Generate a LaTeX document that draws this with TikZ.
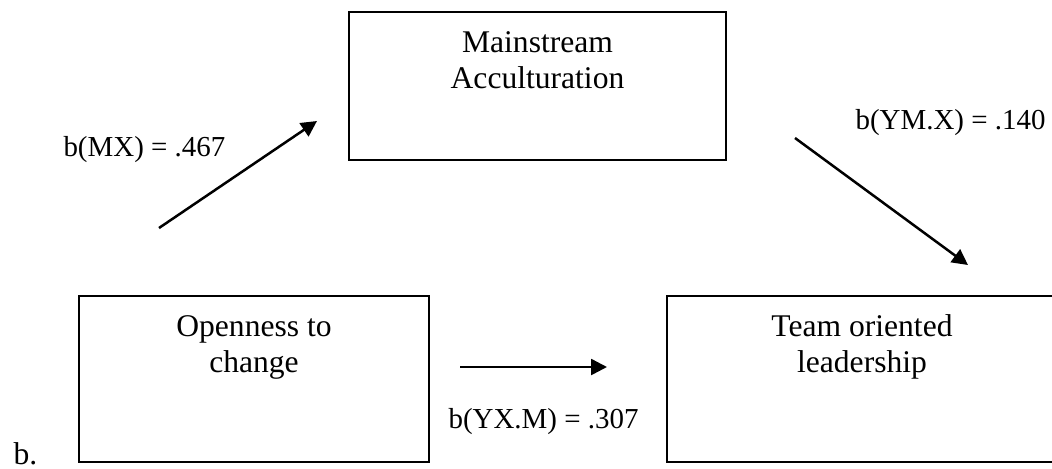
\documentclass[tikz,border=0pt]{standalone}
\usepackage{fontspec}
\setmainfont{Liberation Serif}
\usetikzlibrary{arrows.meta}
\begin{document}
\begin{tikzpicture}[x=0.38pt,y=-0.38pt,
  boxnode/.style={draw=black, line width=0.8pt, rectangle, inner sep=0pt},
  boxtext/.style={anchor=north, inner sep=0pt, align=center, font=\fontsize{12}{13.8}\selectfont},
  coeflabel/.style={anchor=base west, inner sep=0pt, font=\fontsize{11}{13}\selectfont},
  patharrow/.style={line width=0.95pt, -{Triangle[length=6pt,width=6pt]}}
]
\useasboundingbox (0,0) rectangle (1052,468);
% boxes
\node[boxnode, minimum width=377*0.38pt, minimum height=148*0.38pt] (M) at (537.5,86) {};
\node[boxnode, minimum width=350*0.38pt, minimum height=166*0.38pt] (X) at (254,379) {};
\node[boxnode, minimum width=390*0.38pt, minimum height=166*0.38pt] (Y) at (862,379) {};
% box texts
\node[boxtext] (Mt) at (537.5,26.6) {\strut Mainstream\\Acculturation};
\node[boxtext] (Xt) at (254,310.6) {\strut Openness to\\change};
\node[boxtext] (Yt) at (862,310.6) {\strut Team oriented\\leadership};
% arrow end points
\coordinate (a1) at (159,228);
\coordinate (a2) at (317,121);
\coordinate (b1) at (795,138);
\coordinate (b2) at (968,265);
\coordinate (c1) at (460,367);
\coordinate (c2) at (607,367);
\draw[patharrow] (a1) -- (a2);
\draw[patharrow] (b1) -- (b2);
\draw[patharrow] (c1) -- (c2);
% labels
\node[coeflabel] (lmx) at (63,156) {b(MX) = .467};
\node[coeflabel] (lym) at (855,129) {b(YM.X) = .140};
\node[coeflabel] (lyx) at (448,428) {b(YX.M) = .307};
\node[anchor=base west, inner sep=0pt, font=\fontsize{12}{13.8}\selectfont] (lb) at (13,464) {b.};
\end{tikzpicture}
\end{document}
